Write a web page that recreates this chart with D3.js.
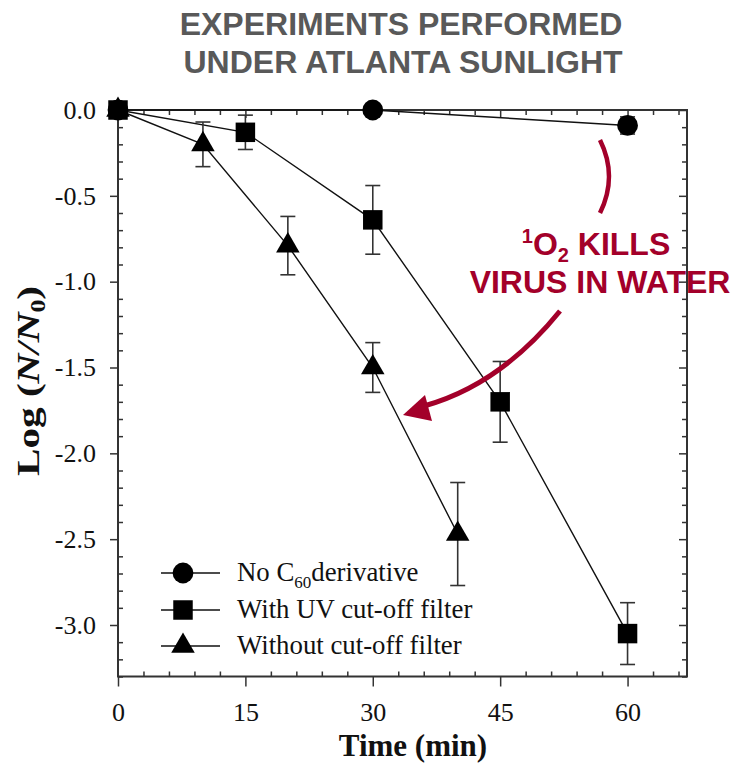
<!DOCTYPE html>
<html>
<head>
<meta charset="utf-8">
<script src="https://cdn.jsdelivr.net/npm/d3@7"></script>
<style>
  html, body { margin: 0; padding: 0; background: #fff; }
  svg { display: block; }
</style>
</head>
<body>
<svg id="chart" width="732" height="765"></svg>
<script>
// Inactivation of virus in water: log reduction vs. exposure time
const xTickValues = [0, 15, 30, 45, 60];
const xTickLabels = ["0", "15", "30", "45", "60"];
const yTickValues = [0, -0.5, -1.0, -1.5, -2.0, -2.5, -3.0];
const yTickLabels = ["0.0", "-0.5", "-1.0", "-1.5", "-2.0", "-2.5", "-3.0"];

// No C60 derivative
const noC60Time = [0, 30, 60];
const noC60Log = [0, 0, -0.09];
const noC60Err = [0, 0, 0.05];

// With UV cut-off filter
const uvTime = [0, 15, 30, 45, 60];
const uvLog = [0, -0.13, -0.64, -1.70, -3.05];
const uvErr = [0, 0.10, 0.20, 0.235, 0.18];

// Without cut-off filter
const noFilterTime = [0, 10, 20, 30, 40];
const noFilterLog = [0, -0.20, -0.79, -1.50, -2.47];
const noFilterErr = [0, 0.13, 0.17, 0.145, 0.30];

const legendLabels = ["No C", "With UV cut-off filter", "Without cut-off filter"];

const svg = d3.select("#chart");
const serif = "'Liberation Serif', 'Times New Roman', serif";
const sans = "'Liberation Sans', Arial, sans-serif";
const axisColor = "#333";
const red = "#a3002a";

const x = d3.scaleLinear().domain([0, 67]).range([118, 687]);
const y = d3.scaleLinear().domain([0, -3.3]).range([110, 676.5]);

const xMinor = d3.range(3, 67, 3).filter(v => v % 15 !== 0);
const yMinor = d3.range(1, 34).map(i => -i / 10).filter(v => Math.abs(v * 2 - Math.round(v * 2)) > 1e-6);

// Title
const title = svg.append("text")
  .attr("x", 401).attr("text-anchor", "middle")
  .attr("font-family", sans).attr("font-weight", "bold")
  .attr("font-size", 32).attr("fill", "#595959");
title.append("tspan").attr("x", 401).attr("y", 35).text("EXPERIMENTS PERFORMED");
title.append("tspan").attr("x", 403).attr("y", 73).text("UNDER ATLANTA SUNLIGHT");

function styleAxis(g) {
  g.select(".domain").remove();
  g.selectAll("line").attr("stroke", axisColor).attr("stroke-width", 1.5);
  g.selectAll("text").attr("font-family", serif).attr("font-size", 26).attr("fill", "#111");
}

// Frame
svg.append("rect")
  .attr("x", x(0)).attr("y", y(0))
  .attr("width", x(67) - x(0)).attr("height", y(-3.3) - y(0))
  .attr("fill", "none").attr("stroke", axisColor).attr("stroke-width", 2);

// Bottom axis: major ticks outward with labels, minor ticks inward
svg.append("g").attr("transform", `translate(0,${y(-3.3)})`)
  .call(d3.axisBottom(x).tickValues(xTickValues).tickSize(10).tickPadding(16)
    .tickFormat((d, i) => xTickLabels[i]))
  .call(styleAxis);
svg.append("g").attr("transform", `translate(0,${y(-3.3)})`)
  .call(d3.axisTop(x).tickValues(xMinor).tickSize(5).tickFormat(""))
  .call(styleAxis);

// Top axis: all ticks inward
svg.append("g").attr("transform", `translate(0,${y(0)})`)
  .call(d3.axisBottom(x).tickValues(xTickValues).tickSize(8).tickFormat(""))
  .call(styleAxis);
svg.append("g").attr("transform", `translate(0,${y(0)})`)
  .call(d3.axisBottom(x).tickValues(xMinor).tickSize(5).tickFormat(""))
  .call(styleAxis);

// Left axis: major ticks outward with labels, minor ticks inward
svg.append("g").attr("transform", `translate(${x(0)},0)`)
  .call(d3.axisLeft(y).tickValues(yTickValues).tickSize(8).tickPadding(14)
    .tickFormat((d, i) => yTickLabels[i]))
  .call(styleAxis);
svg.append("g").attr("transform", `translate(${x(0)},0)`)
  .call(d3.axisRight(y).tickValues(yMinor).tickSize(5).tickFormat(""))
  .call(styleAxis);

// Right axis: all ticks inward
svg.append("g").attr("transform", `translate(${x(67)},0)`)
  .call(d3.axisLeft(y).tickValues(yTickValues).tickSize(8).tickFormat(""))
  .call(styleAxis);
svg.append("g").attr("transform", `translate(${x(67)},0)`)
  .call(d3.axisLeft(y).tickValues(yMinor).tickSize(5).tickFormat(""))
  .call(styleAxis);

// Axis titles
svg.append("text")
  .attr("x", 413).attr("y", 756).attr("text-anchor", "middle")
  .attr("font-family", serif).attr("font-weight", "bold").attr("font-size", 31)
  .attr("fill", "#111").text("Time (min)");

const yTitle = svg.append("text")
  .attr("transform", "translate(39,381) rotate(-90)")
  .attr("text-anchor", "middle")
  .attr("textLength", 190).attr("lengthAdjust", "spacingAndGlyphs")
  .attr("font-family", serif).attr("font-weight", "bold").attr("font-size", 32)
  .attr("fill", "#111");
yTitle.append("tspan").text("Log (");
yTitle.append("tspan").attr("font-style", "italic").text("N/N");
yTitle.append("tspan").attr("font-size", 20).attr("dy", 6).text("0");
yTitle.append("tspan").attr("dy", -6).text(")");

// Series
const series = [
  { t: noC60Time, v: noC60Log, e: noC60Err, shape: d3.symbolCircle, size: 340 },
  { t: uvTime, v: uvLog, e: uvErr, shape: d3.symbolSquare, size: 380 },
  { t: noFilterTime, v: noFilterLog, e: noFilterErr, shape: d3.symbolTriangle, size: 240 }
];

const line = d3.line().x(d => x(d[0])).y(d => y(d[1]));

series.forEach(s => {
  const pts = s.t.map((t, i) => [t, s.v[i], s.e[i]]);
  svg.append("path").datum(pts).attr("d", line)
    .attr("fill", "none").attr("stroke", "#111").attr("stroke-width", 1.4);
});

series.forEach(s => {
  const pts = s.t.map((t, i) => [t, s.v[i], s.e[i]]).filter(p => p[2] > 0);
  const g = svg.append("g").attr("stroke", axisColor).attr("stroke-width", 1.6);
  pts.forEach(p => {
    const cx = x(p[0]);
    g.append("line").attr("x1", cx).attr("x2", cx).attr("y1", y(p[1] + p[2])).attr("y2", y(p[1] - p[2]));
    g.append("line").attr("x1", cx - 7.5).attr("x2", cx + 7.5).attr("y1", y(p[1] + p[2])).attr("y2", y(p[1] + p[2]));
    g.append("line").attr("x1", cx - 7.5).attr("x2", cx + 7.5).attr("y1", y(p[1] - p[2])).attr("y2", y(p[1] - p[2]));
  });
});

series.forEach(s => {
  const sym = d3.symbol().type(s.shape).size(s.size);
  svg.append("g").selectAll("path")
    .data(s.t.map((t, i) => [t, s.v[i]]))
    .join("path")
    .attr("transform", d => `translate(${x(d[0])},${y(d[1])})`)
    .attr("d", sym).attr("fill", "#000");
});

// Legend
const legendRows = [573, 610, 646];
series.forEach((s, i) => {
  const ly = legendRows[i];
  svg.append("line").attr("x1", 161).attr("x2", 220).attr("y1", ly).attr("y2", ly)
    .attr("stroke", "#111").attr("stroke-width", 1.4);
  svg.append("path").attr("transform", `translate(183,${ly})`)
    .attr("d", d3.symbol().type(s.shape).size(s.size)).attr("fill", "#000");
  const t = svg.append("text").attr("x", 237).attr("y", ly + 8)
    .attr("font-family", serif).attr("font-size", 26.8).attr("fill", "#111");
  t.append("tspan").text(legendLabels[i]);
  if (i === 0) {
    t.append("tspan").attr("font-size", 17).attr("dy", 7).text("60");
    t.append("tspan").attr("dy", -7).text("derivative");
  }
});

// Annotation
const note = svg.append("text").attr("text-anchor", "middle")
  .attr("font-family", sans).attr("font-weight", "bold").attr("font-size", 32).attr("fill", red);
const l1 = note.append("tspan").attr("x", 596).attr("y", 255);
l1.append("tspan").attr("font-size", 20).attr("dy", -12).text("1");
l1.append("tspan").attr("dy", 12).text("O");
l1.append("tspan").attr("font-size", 20).attr("dy", 7).text("2");
l1.append("tspan").attr("dy", -7).text(" KILLS");
note.append("tspan").attr("x", 600).attr("y", 293).text("VIRUS IN WATER");

const arc = d3.path();
arc.moveTo(600, 140);
arc.quadraticCurveTo(618, 176.5, 600, 213);
svg.append("path").attr("d", arc.toString())
  .attr("fill", "none").attr("stroke", red).attr("stroke-width", 4.5);

const arrow = d3.path();
arrow.moveTo(560, 311);
arrow.quadraticCurveTo(500, 385, 424, 406);
svg.append("path").attr("d", arrow.toString())
  .attr("fill", "none").attr("stroke", red).attr("stroke-width", 5);

const head = d3.path();
head.moveTo(403, 415);
head.lineTo(425, 395);
head.lineTo(432, 421);
head.closePath();
svg.append("path").attr("d", head.toString()).attr("fill", red);
</script>
</body>
</html>
